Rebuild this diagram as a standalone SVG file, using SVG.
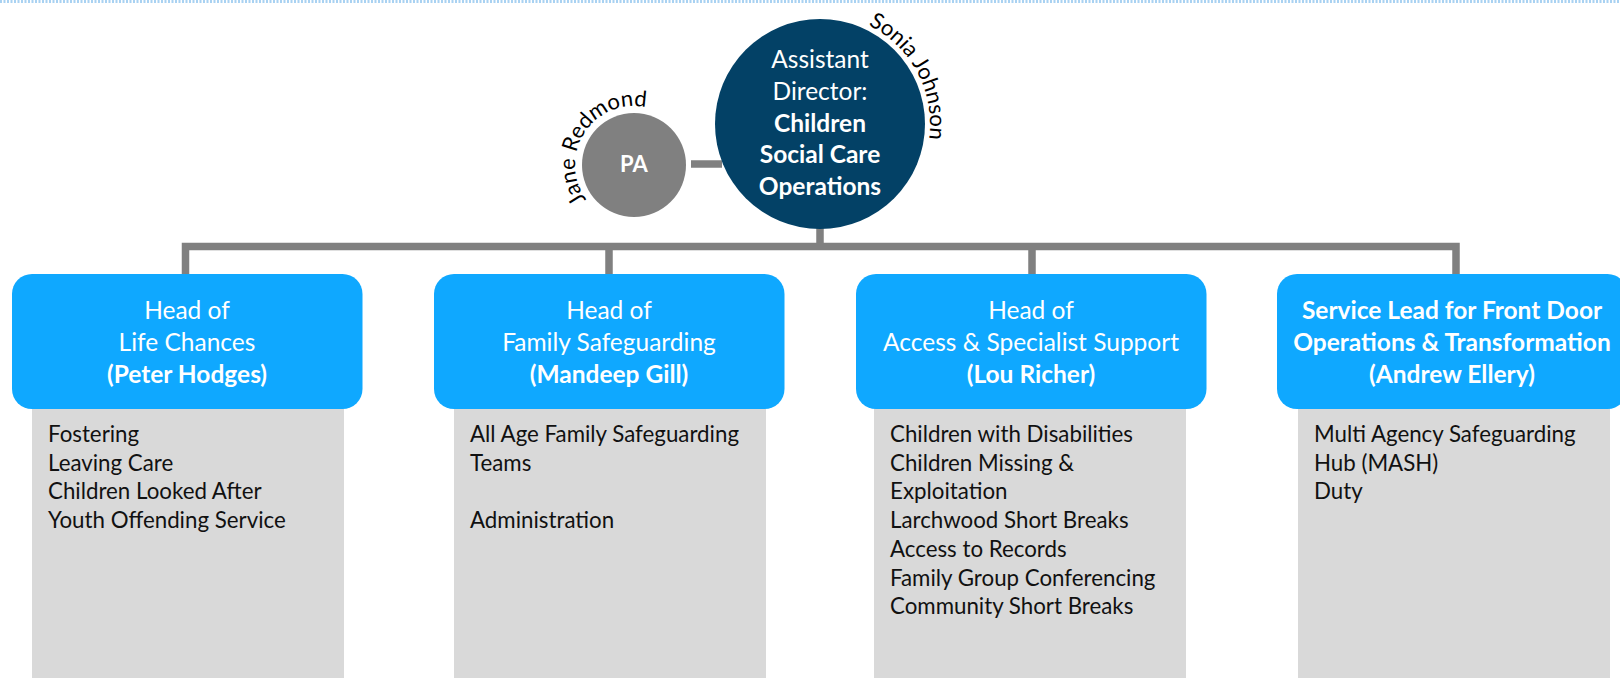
<svg xmlns="http://www.w3.org/2000/svg" width="1620" height="678" viewBox="0 0 1620 678">
<style>
.head{fill:#0fa8ff}
.list{fill:#d9d9d9}
.ht{font-family:Lato,"Liberation Sans",sans-serif;font-size:24.5px;fill:#fff;text-anchor:middle}
.b{font-weight:bold}
.lt{font-family:Lato,"Liberation Sans",sans-serif;font-size:22.3px;fill:#111}
.conn{fill:none;stroke:#808080;stroke-width:7.5}
.arc{font-family:Lato,"Liberation Sans",sans-serif;font-size:22px;fill:#000}
</style>
<defs>
<path id="paArc" d="M 586.3 199.7 A 59 59 0 0 1 663.5 113.9"/>
<path id="adArc" d="M 868.2 25.1 A 110 110 0 0 1 926.3 152.5"/>
</defs>
<rect width="1620" height="678" fill="#fff"/>
<line x1="0" y1="1.5" x2="1620" y2="1.5" stroke="#a9d2f2" stroke-width="3" stroke-dasharray="2 1.5"/>
<g id="connectors">
<path class="conn" d="M185.5 276 V246.5 H1456 V276"/>
<path class="conn" d="M609 246.5 V276 M1032 246.5 V276 M820 225 V246.5"/>
<path class="conn" d="M691 164 H722"/>
</g>
<g id="pa">
<circle cx="634" cy="165" r="52" fill="#808080"/>
<text class="ht b" x="634" y="172" style="font-size:22px">PA</text>
<text class="arc"><textPath href="#paArc">Jane Redmond</textPath></text>
</g>
<g id="ad">
<circle cx="820" cy="124" r="105" fill="#034166"/>
<text class="ht" x="820" y="68">Assistant</text>
<text class="ht" x="820" y="100">Director:</text>
<text class="ht b" x="820" y="132">Children</text>
<text class="ht b" x="820" y="163">Social Care</text>
<text class="ht b" x="820" y="195">Operations</text>
<text class="arc"><textPath href="#adArc">Sonia Johnson</textPath></text>
</g>
<g id="n1">
<rect class="list" x="32" y="390" width="312" height="300"/>
<rect class="head" x="12" y="274" width="350.5" height="135" rx="20"/>
<text class="ht" x="187" y="319">Head of</text>
<text class="ht" x="187" y="351">Life Chances</text>
<text class="ht b" x="187" y="383">(Peter Hodges)</text>
<text class="lt"><tspan x="48" y="442">Fostering</tspan><tspan x="48" y="470.7">Leaving Care</tspan><tspan x="48" y="499.4">Children Looked After</tspan><tspan x="48" y="528.1">Youth Offending Service</tspan></text>
</g>
<g id="n2">
<rect class="list" x="454" y="390" width="312" height="300"/>
<rect class="head" x="434" y="274" width="350.5" height="135" rx="20"/>
<text class="ht" x="609" y="319">Head of</text>
<text class="ht" x="609" y="351">Family Safeguarding</text>
<text class="ht b" x="609" y="383">(Mandeep Gill)</text>
<text class="lt"><tspan x="470" y="442">All Age Family Safeguarding</tspan><tspan x="470" y="470.7">Teams</tspan><tspan x="470" y="528.1">Administration</tspan></text>
</g>
<g id="n3">
<rect class="list" x="874" y="390" width="312" height="300"/>
<rect class="head" x="856" y="274" width="350.5" height="135" rx="20"/>
<text class="ht" x="1031" y="319">Head of</text>
<text class="ht" x="1031" y="351">Access &amp; Specialist Support</text>
<text class="ht b" x="1031" y="383">(Lou Richer)</text>
<text class="lt"><tspan x="890" y="442">Children with Disabilities</tspan><tspan x="890" y="470.7">Children Missing &amp;</tspan><tspan x="890" y="499.4">Exploitation</tspan><tspan x="890" y="528.1">Larchwood Short Breaks</tspan><tspan x="890" y="556.8">Access to Records</tspan><tspan x="890" y="585.5">Family Group Conferencing</tspan><tspan x="890" y="614.2">Community Short Breaks</tspan></text>
</g>
<g id="n4">
<rect class="list" x="1298" y="390" width="312" height="300"/>
<rect class="head" x="1277" y="274" width="350.5" height="135" rx="20"/>
<text class="ht b" x="1452" y="319">Service Lead for Front Door</text>
<text class="ht b" x="1452" y="351">Operations &amp; Transformation</text>
<text class="ht b" x="1452" y="383">(Andrew Ellery)</text>
<text class="lt"><tspan x="1314" y="442">Multi Agency Safeguarding</tspan><tspan x="1314" y="470.7">Hub (MASH)</tspan><tspan x="1314" y="499.4">Duty</tspan></text>
</g>
</svg>
